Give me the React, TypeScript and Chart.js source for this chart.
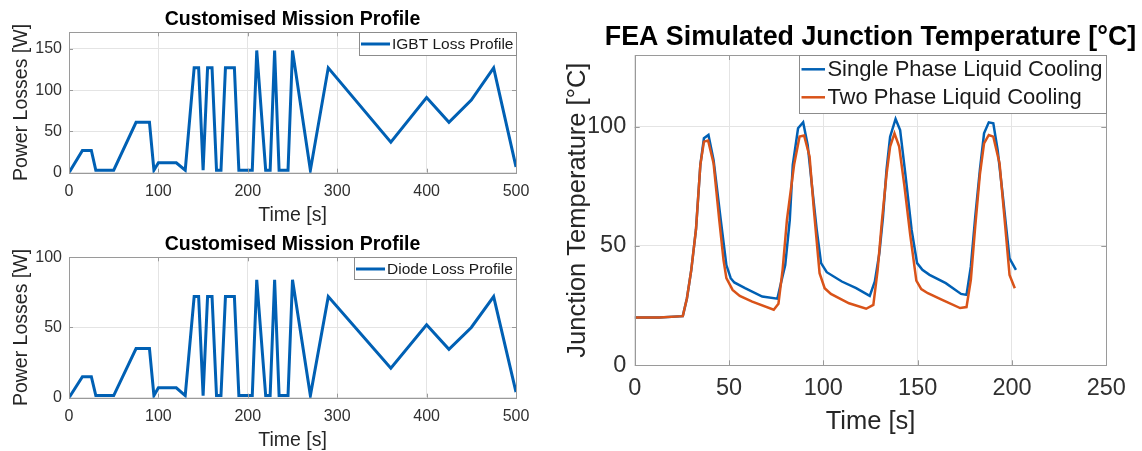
import React, { useEffect, useRef } from "react";
import { Chart, registerables } from "chart.js";

Chart.register(...registerables);

const FONT = '"Liberation Sans", Arial, Helvetica, sans-serif';
const BLUE = "#0060b4";
const ORANGE = "#d95319";
const AXIS = "#9a9a9a";
const GRID = "#e4e4e4";
const TEXT = "#303030";

// Mission profile: time [s] and loss levels [W]
const missionTime = [0, 15, 25, 30, 50, 75, 90, 95, 100, 120, 130, 140, 145, 150, 155, 160, 165, 170, 175, 185, 190, 205, 210, 220, 225, 230, 235, 245, 250, 270, 290, 360, 400, 425, 450, 475, 500];
const igbtLoss = [0, 27, 27, 3, 3, 61, 61, 3, 12, 12, 3, 127, 127, 3, 127, 127, 3, 3, 127, 127, 3, 3, 148, 3, 3, 148, 3, 3, 148, 3, 127, 37, 91, 61, 88, 127, 7];
const diodeLoss = [0, 15, 15, 1.5, 1.5, 35, 35, 1.5, 7, 7, 1.5, 72, 72, 1.5, 72, 72, 1.5, 1.5, 72, 72, 1.5, 1.5, 84, 1.5, 1.5, 84, 1.5, 1.5, 84, 1.5, 72, 21, 52, 34.5, 50, 72, 4];
const missionTicksX = [0, 100, 200, 300, 400, 500];
const igbtTicksY = [0, 50, 100, 150];
const diodeTicksY = [0, 50, 100];

// FEA junction temperature [°C]
const singleTime = [0, 13, 25.5, 27.7, 30, 32.5, 34.8, 36.7, 39.1, 41.8, 45.6, 48.6, 50.9, 52.8, 58.5, 67.6, 75.6, 77.1, 79.8, 82.2, 83.8, 86.6, 89.3, 91.7, 94, 96.5, 98.8, 101.8, 109.8, 117.4, 124.6, 127.3, 129.7, 131.6, 133.5, 135.4, 138.3, 140.7, 143.5, 146.8, 149.7, 152.5, 156.3, 164.9, 173, 175.9, 178.2, 180.5, 183, 185.2, 187.7, 190.1, 192.4, 195, 198.7, 202.1];
const singlePhase = [20, 20, 20.6, 28.1, 40, 57, 84, 95.1, 96.5, 86, 61, 42, 36.5, 34.7, 32.3, 28.8, 27.9, 33, 42, 60.8, 84, 99.3, 101.8, 92.3, 75, 56.7, 42.8, 39, 35.1, 32.3, 29.1, 35.1, 47, 62, 82, 95.8, 103.2, 98.6, 80, 56.7, 42.8, 40, 37.9, 34.4, 29.9, 29.5, 41.4, 62, 82, 97.2, 101.8, 101.4, 90.2, 72, 44.8, 40];
const twoTime = [0, 13, 25.5, 27.7, 30, 32.5, 34.8, 36.7, 38.9, 41.8, 44.8, 47.1, 48.6, 51.9, 55.7, 62.3, 73.7, 76.2, 78.4, 80.7, 84.5, 87.4, 89.8, 92.7, 95, 98, 100.7, 104, 113.6, 122.7, 126.5, 128.8, 131, 133.5, 135.4, 137.7, 140.2, 143, 146, 149.3, 151.9, 155.4, 163, 172.5, 175.9, 178.2, 180.5, 183, 185.2, 187.7, 190.1, 193.4, 196, 198.7, 201.5];
const twoPhase = [20, 20, 20.6, 28.1, 40, 57, 84, 93.7, 94.2, 84.7, 61, 44, 36.5, 31.6, 29.1, 26.7, 23.3, 25.8, 40, 60.9, 84, 95.8, 96.3, 87.5, 65, 38.6, 32.3, 29.9, 26, 23.7, 25.3, 40, 60, 80, 91.6, 97.2, 91.6, 75, 55, 35.5, 31.9, 30.2, 27.4, 24, 24.4, 35.8, 58, 80, 93, 96.5, 95.8, 84.7, 62, 37.9, 32.3];
const tempTicksX = [0, 50, 100, 150, 200, 250];
const tempTicksY = [0, 50, 100];

type Series = { label: string; xs: number[]; ys: number[]; color: string; width: number; order: number };
type Spec = {
  left: number; top: number; width: number; height: number;
  area: { left: number; top: number; right: number; bottom: number };
  xMax: number; yMax: number; xTicks: number[]; yTicks: number[];
  tickSize: number; tickPadX: number; tickPadY: number; tickLen: number;
  title: string; titleSize: number; titleBaseline: number;
  xLabel: string; xLabelBaseline: number;
  yLabel: string; yLabelBaselineX: number; labelSize: number;
  legend: { size: number; lineWidth: number; lineStart: number; lineEnd: number; textStart: number; rowFirst: number; rowGap: number; height: number; padRight: number };
  series: Series[];
};

function frame(spec: Spec) {
  return {
    id: "frame",
    afterDraw(chart: any) {
      const ctx: CanvasRenderingContext2D = chart.ctx;
      const { left, top, right, bottom } = chart.chartArea;
      const xs = chart.scales.x;
      const ys = chart.scales.y;
      ctx.save();

      // inward tick marks and the axes box
      ctx.strokeStyle = AXIS;
      ctx.lineWidth = 1;
      ctx.beginPath();
      for (const v of spec.xTicks) {
        const px = Math.round(xs.getPixelForValue(v)) + 0.5;
        ctx.moveTo(px, bottom);
        ctx.lineTo(px, bottom - spec.tickLen);
        ctx.moveTo(px, top);
        ctx.lineTo(px, top + spec.tickLen);
      }
      for (const v of spec.yTicks) {
        const py = Math.round(ys.getPixelForValue(v)) + 0.5;
        ctx.moveTo(left, py);
        ctx.lineTo(left + spec.tickLen, py);
        ctx.moveTo(right, py);
        ctx.lineTo(right - spec.tickLen, py);
      }
      ctx.stroke();
      const l = Math.round(left) + 0.5;
      const t = Math.round(top) + 0.5;
      ctx.strokeRect(l, t, Math.round(right) - Math.round(left), Math.round(bottom) - Math.round(top));

      // legend box in the upper right corner
      const lg = spec.legend;
      ctx.font = `${lg.size}px ${FONT}`;
      const tw = Math.max(...spec.series.map((s) => ctx.measureText(s.label).width));
      const w = Math.round(lg.textStart + tw + lg.padRight);
      const bx = Math.round(right) - w;
      const by = Math.round(top);
      ctx.fillStyle = "#ffffff";
      ctx.fillRect(bx, by, w, lg.height);
      ctx.strokeStyle = "#8c8c8c";
      ctx.lineWidth = 1;
      ctx.strokeRect(bx + 0.5, by + 0.5, w, Math.round(lg.height));
      const legendOrder = [...spec.series].sort((a, b) => b.order - a.order);
      legendOrder.forEach((s, i) => {
        const cy = by + lg.rowFirst + i * lg.rowGap;
        ctx.strokeStyle = s.color;
        ctx.lineWidth = lg.lineWidth;
        ctx.beginPath();
        ctx.moveTo(bx + lg.lineStart, cy);
        ctx.lineTo(bx + lg.lineEnd, cy);
        ctx.stroke();
        ctx.fillStyle = "#1a1a1a";
        ctx.textAlign = "left";
        ctx.textBaseline = "middle";
        ctx.fillText(s.label, bx + lg.textStart, cy + 1);
      });

      // title and axis labels
      const cx = (left + right) / 2;
      ctx.fillStyle = "#000000";
      ctx.textAlign = "center";
      ctx.textBaseline = "alphabetic";
      ctx.font = `bold ${spec.titleSize}px ${FONT}`;
      ctx.fillText(spec.title, cx, spec.titleBaseline);
      ctx.fillStyle = "#262626";
      ctx.font = `${spec.labelSize}px ${FONT}`;
      ctx.fillText(spec.xLabel, cx, spec.xLabelBaseline);
      ctx.translate(spec.yLabelBaselineX, (top + bottom) / 2);
      ctx.rotate(-Math.PI / 2);
      ctx.fillText(spec.yLabel, 0, 0);
      ctx.restore();
    },
  };
}

function buildConfig(spec: Spec): any {
  const { area, width, height } = spec;
  const tickFont = { family: FONT, size: spec.tickSize };
  return {
    type: "line",
    data: {
      datasets: spec.series.map((s) => ({
        label: s.label,
        data: s.xs.map((x, i) => ({ x, y: s.ys[i] })),
        borderColor: s.color,
        backgroundColor: s.color,
        borderWidth: s.width,
        pointRadius: 0,
        tension: 0,
        fill: false,
        order: s.order,
        borderJoinStyle: "miter",
      })),
    },
    options: {
      responsive: false,
      animation: false,
      devicePixelRatio: 1,
      layout: { padding: { left: 0, top: area.top, right: width - area.right, bottom: 0 } },
      plugins: { legend: { display: false }, tooltip: { enabled: false }, title: { display: false } },
      scales: {
        x: {
          type: "linear",
          min: 0,
          max: spec.xMax,
          afterBuildTicks: (sc: any) => {
            sc.ticks = spec.xTicks.map((v) => ({ value: v }));
          },
          afterFit: (sc: any) => {
            sc.height = height - area.bottom;
          },
          grid: { color: GRID, drawTicks: false, lineWidth: 1 },
          border: { display: false },
          ticks: { font: tickFont, color: TEXT, padding: spec.tickPadX, maxRotation: 0, autoSkip: false },
        },
        y: {
          type: "linear",
          min: 0,
          max: spec.yMax,
          afterBuildTicks: (sc: any) => {
            sc.ticks = spec.yTicks.map((v) => ({ value: v }));
          },
          afterFit: (sc: any) => {
            sc.width = area.left;
          },
          grid: { color: GRID, drawTicks: false, lineWidth: 1 },
          border: { display: false },
          ticks: { font: tickFont, color: TEXT, padding: spec.tickPadY, autoSkip: false },
        },
      },
    },
    plugins: [frame(spec)],
  };
}

function Panel({ spec }: { spec: Spec }) {
  const ref = useRef<HTMLCanvasElement>(null);
  useEffect(() => {
    const chart = new Chart(ref.current as HTMLCanvasElement, buildConfig(spec));
    return () => chart.destroy();
  }, [spec]);
  return (
    <canvas
      ref={ref}
      width={spec.width}
      height={spec.height}
      style={{ position: "absolute", left: spec.left, top: spec.top, width: spec.width, height: spec.height }}
    />
  );
}

const smallLegend = { size: 15.5, lineWidth: 3, lineStart: 2, lineEnd: 31, textStart: 33, rowFirst: 12, rowGap: 0, height: 23, padRight: 3 };

const igbtSpec: Spec = {
  left: 0, top: 0, width: 560, height: 225,
  area: { left: 69, top: 32.3, right: 516, bottom: 172.7 },
  xMax: 500, yMax: 170, xTicks: missionTicksX, yTicks: igbtTicksY,
  tickSize: 16, tickPadX: 9, tickPadY: 7, tickLen: 4,
  title: "Customised Mission Profile", titleSize: 19.5, titleBaseline: 25,
  xLabel: "Time [s]", xLabelBaseline: 220.5,
  yLabel: "Power Losses [W]", yLabelBaselineX: 26.7, labelSize: 19.5,
  legend: smallLegend,
  series: [{ label: "IGBT Loss Profile", xs: missionTime, ys: igbtLoss, color: BLUE, width: 3, order: 0 }],
};

const diodeSpec: Spec = {
  ...igbtSpec,
  top: 225, height: 226,
  yMax: 100, yTicks: diodeTicksY,
  legend: { ...smallLegend, height: 22 },
  series: [{ label: "Diode Loss Profile", xs: missionTime, ys: diodeLoss, color: BLUE, width: 3, order: 0 }],
};

const tempSpec: Spec = {
  left: 560, top: 0, width: 582, height: 451,
  area: { left: 74.7, top: 55, right: 546.3, bottom: 365.3 },
  xMax: 250, yMax: 130, xTicks: tempTicksX, yTicks: tempTicksY,
  tickSize: 23.5, tickPadX: 9, tickPadY: 8.5, tickLen: 5,
  title: "FEA Simulated Junction Temperature [°C]", titleSize: 26.8, titleBaseline: 44.5,
  xLabel: "Time [s]", xLabelBaseline: 429.3,
  yLabel: "Junction Temperature [°C]", yLabelBaselineX: 24.5, labelSize: 25.5,
  legend: { size: 22, lineWidth: 2.5, lineStart: 2.5, lineEnd: 26, textStart: 28.4, rowFirst: 14.3, rowGap: 28, height: 58, padRight: 3.5 },
  series: [
    { label: "Single Phase Liquid Cooling", xs: singleTime, ys: singlePhase, color: BLUE, width: 2.5, order: 1 },
    { label: "Two Phase Liquid Cooling", xs: twoTime, ys: twoPhase, color: ORANGE, width: 2.5, order: 0 },
  ],
};

export default function App() {
  return (
    <div style={{ position: "fixed", left: 0, top: 0, width: 1142, height: 451, background: "#ffffff", overflow: "hidden" }}>
      <Panel spec={igbtSpec} />
      <Panel spec={diodeSpec} />
      <Panel spec={tempSpec} />
    </div>
  );
}
